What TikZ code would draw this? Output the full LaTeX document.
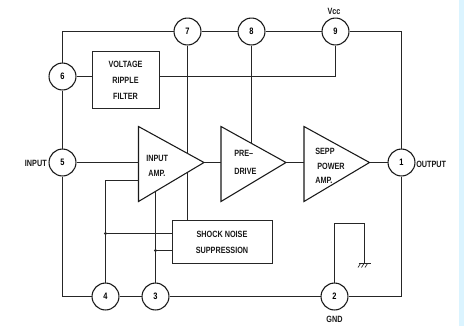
\documentclass[tikz,border=0pt]{standalone}
\usepackage{fontspec}
\setmainfont[FakeStretch=0.8]{Liberation Sans}
\usetikzlibrary{calc}
\tikzset{
 x=0.75pt,y=-0.75pt,
 wire/.style={draw=black!85,line width=0.75pt},
 pin/.style={circle,draw=black!90,line width=0.8pt,fill=white,minimum size=20.2pt,inner sep=0pt,font=\fontsize{7pt}{8pt}\selectfont\bfseries},
 lbl/.style={font=\fontsize{6.8pt}{8pt}\selectfont\bfseries,inner sep=0pt,text=black!90},
 block/.style={draw=black!85,line width=0.75pt,fill=white,inner sep=0pt,align=center,font=\fontsize{6.8pt}{12pt}\selectfont\bfseries,text=black!90},
 amp/.style={draw=black!90,line width=0.8pt,fill=white}
}
\begin{document}
\begin{tikzpicture}
\useasboundingbox (0,0) rectangle (464,326);
\fill[white] (0,0) rectangle (464,326);
\fill[blue!30!cyan!14] (459,0) rectangle (464,326);
% pin circles
\node[pin] (p7) at (187.5,31.5) {7};
\node[pin] (p8) at (251.5,31.5) {8};
\node[pin] (p9) at (335.5,31.5) {9};
\node[pin] (p6) at (62.5,76.5) {6};
\node[pin] (p5) at (62.5,162.5) {5};
\node[pin] (p1) at (401.5,162.5) {1};
\node[pin] (p4) at (105.5,296.5) {4};
\node[pin] (p3) at (155.5,296.5) {3};
\node[pin] (p2) at (334.5,296.5) {2};
% corners and joints
\coordinate (tl) at (62.5,31.5);
\coordinate (tr) at (401.5,31.5);
\coordinate (bl) at (62.5,296.5);
\coordinate (br) at (401.5,296.5);
\coordinate (j7a) at (187.5,154);
\coordinate (j7b) at (187.5,173);
\coordinate (j8) at (251.5,144);
\coordinate (j3) at (155.5,192);
\coordinate (j4) at (105.5,180.5);
\coordinate (in4) at (138.5,180.5);
\coordinate (j9) at (335.5,76.5);
\coordinate (g1) at (334.5,223.5);
\coordinate (g2) at (364.5,223.5);
\coordinate (g3) at (364.5,263.5);
\coordinate (d4) at (105.5,233.5);
\coordinate (d3) at (155.5,250.5);
\coordinate (t1) at (138.5,162.5);
\coordinate (o1) at (204,162.5);
\coordinate (t2) at (221,162.5);
\coordinate (o2) at (286,162.5);
\coordinate (t3) at (304,162.5);
\coordinate (o3) at (369.5,162.5);
% blocks
\node[block,minimum width=50.25pt,minimum height=42.75pt] (vrf) at (125.5,80) {VOLTAGE\\RIPPLE\\FILTER};
\node[block,minimum width=75pt,minimum height=32.25pt] (sns) at (222,242) {SHOCK NOISE\\SUPPRESSION};
\draw[amp] (138.5,126.5) -- (o1) -- (138.5,201.5) -- cycle;
\draw[amp] (221,126.5) -- (o2) -- (221,201.5) -- cycle;
\draw[amp] (304,126.5) -- (o3) -- (304,201.5) -- cycle;
% wires
\draw[wire] (p7) -- (p8);
\draw[wire] (p8) -- (p9);
\draw[wire] (p9) -- (tr) -- (p1);
\draw[wire] (p1) -- (br) -- (p2);
\draw[wire] (p2) -- (p3);
\draw[wire] (p3) -- (p4);
\draw[wire] (p4) -- (bl) -- (p5);
\draw[wire] (p5) -- (p6);
\draw[wire] (p6) -- (tl) -- (p7);
\draw[wire] (p6) -- (p6 -| vrf.west);
\draw[wire] (vrf.east |- p6) -- (j9) -- (p9);
\draw[wire] (p7) -- (j7a);
\draw[wire] (j7b) -- (sns.north -| j7b);
\draw[wire] (p8) -- (j8);
\draw[wire] (p4) -- (j4) -- (in4);
\draw[wire] (p3) -- (j3);
\draw[wire] (d4) -- (d4 -| sns.west);
\draw[wire] (d3) -- (d3 -| sns.west);
\draw[wire] (p2) -- (g1) -- (g2) -- (g3);
\draw[wire] (358.5,263.5) -- (371,263.5);
\foreach \x in {360.5,364,367.5}{\draw[black!85,line width=0.5pt] (\x,263.5) -- ++(-2.5,4);}
\draw[wire] (p5) -- (t1);
\draw[wire] (o1) -- (t2);
\draw[wire] (o2) -- (t3);
\draw[wire] (o3) -- (p1);
\fill[black!85] (d4) circle (1.6);
\fill[black!85] (d3) circle (1.6);
% labels
\node[lbl,anchor=west] (a4) at (146,158) {INPUT};
\node[lbl,anchor=west] (a5) at (148,173) {AMP.};
\node[lbl,anchor=west] (a6) at (234,153) {PRE--};
\node[lbl,anchor=west] (a7) at (234,171) {DRIVE};
\node[lbl,anchor=west] (a8) at (315,151) {SEPP};
\node[lbl,anchor=west] (a9) at (317,166) {POWER};
\node[lbl,anchor=west] (a10) at (315,180) {AMP.};
\node[lbl] (a13) at (334,11) {Vcc};
\node[lbl] (a14) at (334.5,319) {GND};
\node[lbl,anchor=east] (a15) at (47,163.5) {INPUT};
\node[lbl,anchor=west] (a16) at (416,164) {OUTPUT};
\end{tikzpicture}
\end{document}
